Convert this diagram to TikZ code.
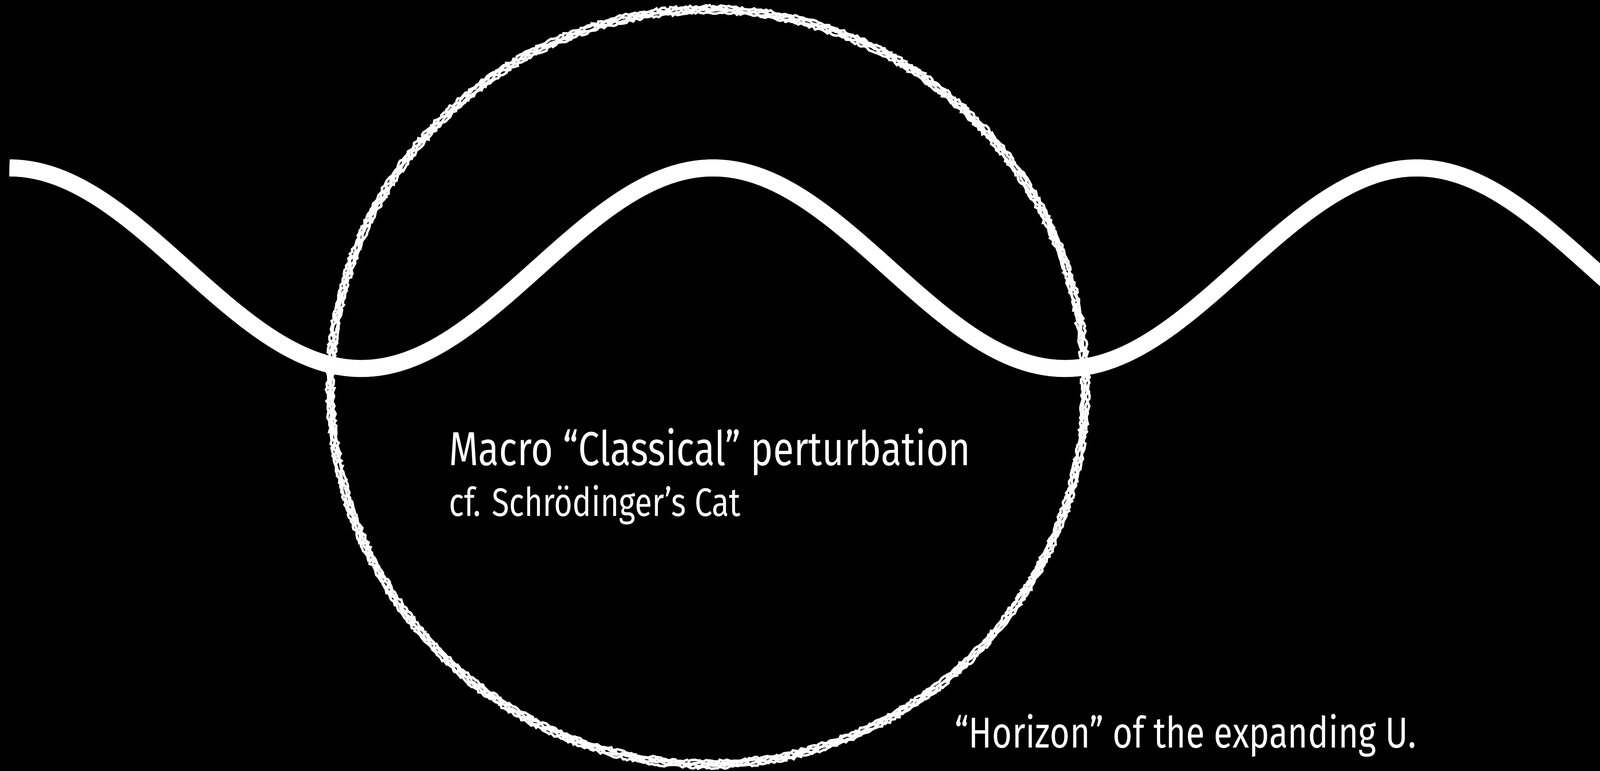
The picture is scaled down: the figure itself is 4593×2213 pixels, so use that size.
\documentclass[tikz,border=0pt]{standalone}
\usepackage{fontspec}
\setmainfont{Fira Sans}[FakeStretch=0.795]
\usepackage{tikz}
\usetikzlibrary{positioning, decorations.pathmorphing}

\begin{document}
\begin{tikzpicture}[
    x=0.01cm, y=-0.01cm,
    wave/.style={white, line width=0.49cm},
    chalk/.style={white, line width=0.07cm,
                  decorate, decoration={random steps, segment length=2pt, amplitude=1.1pt}},
    maintext/.style={text=white, inner sep=0pt, anchor=base west, font=\fontsize{39pt}{44pt}\selectfont},
    subtext/.style={text=white, inner sep=0pt, anchor=base west, font=\fontsize{32.5pt}{38pt}\selectfont},
    horizontext/.style={text=white, inner sep=0pt, anchor=base west, font=\fontsize{35.3pt}{42pt}\selectfont},
]
% Background
\fill[black] (0,0) rectangle (4593,2213);
\useasboundingbox (0,0) rectangle (4593,2213);

% Horizon circle (chalk stroke)
\coordinate (centre) at (2032,1111);
\foreach \r in {10.74,10.80,10.86,10.92}
    \draw[chalk] (centre) circle[radius=\r cm];

% Wave
\draw[wave] plot[domain=27:4640, samples=240] (\x, {770 - 288*cos((\x-27)/2020*360)});

% Labels
\node[maintext] (perturb) at (1288,1336) {Macro “Classical” perturbation};
\node[subtext] (cat) at ([yshift=-1.46cm]perturb.base west) {cf. Schrödinger’s Cat};
\node[horizontext] (horizon) at (2740,2147) {“Horizon” of the expanding U.};
\end{tikzpicture}
\end{document}
